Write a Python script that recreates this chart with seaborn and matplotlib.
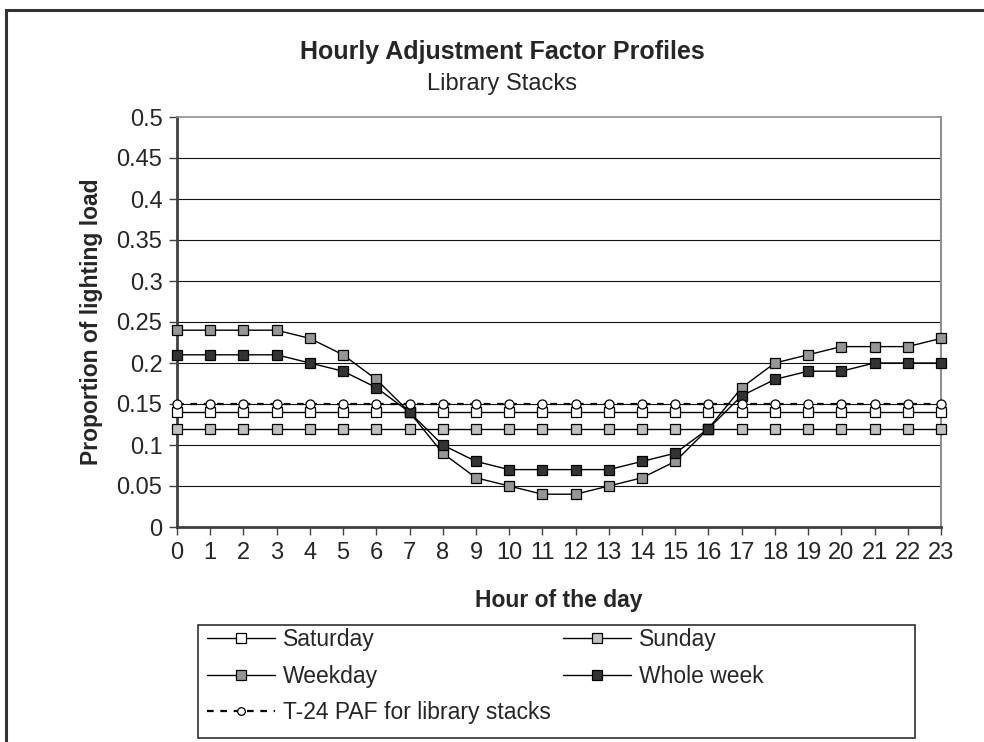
import numpy as np
import pandas as pd
import seaborn as sns
from matplotlib import pyplot as plt
from matplotlib.lines import Line2D
from matplotlib.patches import Rectangle

hours = list(range(24))
saturday = [0.14] * 24
sunday = [0.12] * 24
weekday = [0.24, 0.24, 0.24, 0.24, 0.23, 0.21, 0.18, 0.14, 0.09, 0.06, 0.05, 0.04,
           0.04, 0.05, 0.06, 0.08, 0.12, 0.17, 0.20, 0.21, 0.22, 0.22, 0.22, 0.23]
whole_week = [0.21, 0.21, 0.21, 0.21, 0.20, 0.19, 0.17, 0.14, 0.10, 0.08, 0.07, 0.07,
              0.07, 0.07, 0.08, 0.09, 0.12, 0.16, 0.18, 0.19, 0.19, 0.20, 0.20, 0.20]
t24 = [0.15] * 24
y_ticks = [0, 0.05, 0.1, 0.15, 0.2, 0.25, 0.3, 0.35, 0.4, 0.45, 0.5]
y_labels = ['0', '0.05', '0.1', '0.15', '0.2', '0.25', '0.3', '0.35', '0.4', '0.45', '0.5']

sns.set_style('white')
plt.rcParams['font.family'] = ['Liberation Sans', 'DejaVu Sans']

W, H = 984, 742
fig = plt.figure(figsize=(W / 100, H / 100), dpi=100)
ax = fig.add_axes([177 / W, 1 - 527 / H, (941 - 177) / W, (527 - 117) / H])

# series: (label, values, face colour, marker, linestyle)
series = [
    ('Saturday', saturday, 'white', 's', '-'),
    ('Sunday', sunday, '#c0c0c0', 's', '-'),
    ('Weekday', weekday, '#969696', 's', '-'),
    ('Whole week', whole_week, '#333333', 's', '-'),
    ('T-24 PAF for library stacks', t24, 'white', 'o', (0, (3, 3))),
]

for yv in y_ticks[1:-1]:
    ax.axhline(yv, color='#111111', lw=0.8, zorder=1)

handles = {}
for i, (name, vals, face, mk, ls) in enumerate(series):
    lw = 1.6 if mk == 'o' else 1.0
    sns.lineplot(x=hours, y=vals, ax=ax, color='black', linewidth=lw, linestyle=ls,
                 marker=mk, markersize=6.5, markerfacecolor=face,
                 markeredgecolor='black', markeredgewidth=0.9, zorder=3 + i,
                 clip_on=False, legend=False)
    handles[name] = Line2D([], [], color='black', linewidth=lw, linestyle=ls,
                           marker=mk, markersize=6.5 if mk == 's' else 5.5,
                           markerfacecolor=face, markeredgecolor='black',
                           markeredgewidth=0.9)

ax.set_xlim(0, 23)
ax.set_ylim(0, 0.5)
ax.set_xticks(hours)
ax.set_xticklabels([str(h) for h in hours], fontsize=17)
ax.set_yticks(y_ticks)
ax.set_yticklabels(y_labels, fontsize=17)
ax.tick_params(axis='both', direction='out', length=5.5, width=1, color='#404040',
               bottom=True, left=True, pad=5)

ax.spines['left'].set_color('#404040')
ax.spines['left'].set_linewidth(2)
ax.spines['bottom'].set_color('#404040')
ax.spines['bottom'].set_linewidth(2)
ax.spines['top'].set_color('#909090')
ax.spines['right'].set_color('#909090')
ax.spines['top'].set_linewidth(1.2)
ax.spines['right'].set_linewidth(1.5)

ax.set_xlabel('Hour of the day', fontsize=16.5, fontweight='bold', va='center')
ax.xaxis.set_label_coords(0.5, (527 - 600) / 410)
ax.set_ylabel('Proportion of lighting load', fontsize=16.5, fontweight='bold', va='center')
ax.yaxis.set_label_coords((92 - 177) / 764, 0.5)

fig.text(502 / W, 1 - 52 / H, 'Hourly Adjustment Factor Profiles', fontsize=18,
         fontweight='bold', ha='center', va='center')
fig.text(502 / W, 1 - 84 / H, 'Library Stacks', fontsize=17, ha='center', va='center')

order = ['Saturday', 'Weekday', 'T-24 PAF for library stacks', 'Sunday', 'Whole week']
leg = fig.legend([handles[n] for n in order], order, ncol=2, frameon=False,
                 loc='upper left', bbox_to_anchor=(207 / W, 1 - 628 / H),
                 fontsize=16.5, handlelength=2.95, handletextpad=0.35,
                 columnspacing=0.55, labelspacing=0.6, numpoints=1,
                 borderaxespad=0, borderpad=0)

fig.patches.append(Rectangle((198 / W, 1 - 738 / H), (915 - 198) / W, (738 - 625) / H,
                             transform=fig.transFigure, fill=False,
                             edgecolor='#303030', linewidth=1.2))
fig.patches.append(Rectangle((6 / W, -0.1), 1.2, 1 - 10 / H + 0.1,
                             transform=fig.transFigure, fill=False,
                             edgecolor='#333333', linewidth=2.2))

fig.savefig('out.png', dpi=100)
